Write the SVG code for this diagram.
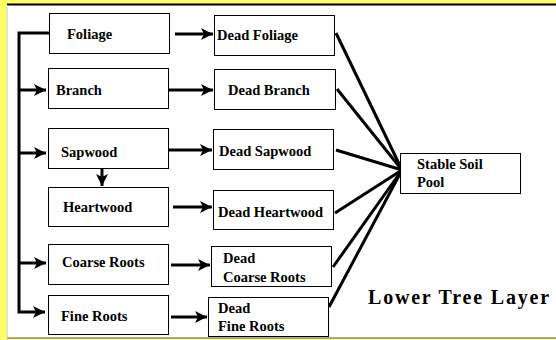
<svg xmlns="http://www.w3.org/2000/svg" width="556" height="340" viewBox="0 0 556 340">
<style>
.box{fill:#fff;stroke:#000;stroke-width:1}
.t{font-family:"Liberation Serif","Times New Roman",serif;font-weight:bold;font-size:14.5px;fill:#000}
.c{stroke:#000;stroke-width:3;fill:none}
</style>
<defs>
<marker id="ah" markerUnits="userSpaceOnUse" markerWidth="14" markerHeight="14" refX="12" refY="6" orient="auto" viewBox="0 0 14 12">
<path d="M0,0 L12,6 L0,12 L3,6 Z" fill="#000"/>
</marker>
</defs>
<rect x="0" y="0" width="556" height="340" fill="#ffff66"/>
<rect x="7" y="5" width="549" height="333" fill="#fff"/>
<line x1="7" y1="4.5" x2="556" y2="4.5" stroke="#000" stroke-width="2"/>
<line x1="7" y1="338" x2="556" y2="338" stroke="#888" stroke-width="1.5"/>
<line x1="7" y1="5" x2="7" y2="338" stroke="#ccc" stroke-width="1"/>

<g id="connectors">
<path class="c" d="M52,33 L19,33 L19,312 L45,312" marker-end="url(#ah)"/>
<line class="c" x1="19" y1="90" x2="46" y2="90" marker-end="url(#ah)"/>
<line class="c" x1="19" y1="153" x2="46" y2="153" marker-end="url(#ah)"/>
<line class="c" x1="19" y1="263" x2="46" y2="263" marker-end="url(#ah)"/>
<line class="c" x1="102" y1="168" x2="102" y2="186" marker-end="url(#ah)"/>
<line class="c" x1="175" y1="34" x2="213" y2="34" marker-end="url(#ah)"/>
<line class="c" x1="169" y1="90" x2="213" y2="90" marker-end="url(#ah)"/>
<line class="c" x1="169" y1="150" x2="212" y2="150" marker-end="url(#ah)"/>
<line class="c" x1="173" y1="207" x2="212" y2="207" marker-end="url(#ah)"/>
<line class="c" x1="171" y1="265" x2="210" y2="265" marker-end="url(#ah)"/>
<line class="c" x1="171" y1="317" x2="207" y2="317" marker-end="url(#ah)"/>
<line class="c" x1="336" y1="33" x2="402" y2="170"/>
<line class="c" x1="337" y1="89" x2="402" y2="170"/>
<line class="c" x1="336" y1="150" x2="402" y2="170"/>
<line class="c" x1="335" y1="213" x2="402" y2="170"/>
<line class="c" x1="333" y1="267" x2="402" y2="170"/>
<line class="c" x1="329" y1="307" x2="402" y2="170"/>
</g>

<g id="foliage"><rect class="box" x="49.5" y="13.5" width="120" height="40"/><text class="t" x="67" y="39">Foliage</text></g>
<g id="dead-foliage"><rect class="box" x="214.5" y="15.5" width="120" height="40"/><text class="t" x="217" y="40">Dead Foliage</text></g>
<g id="branch"><rect class="box" x="48.5" y="68.5" width="120" height="40"/><text class="t" x="56" y="95">Branch</text></g>
<g id="dead-branch"><rect class="box" x="214.5" y="69.5" width="121" height="40"/><text class="t" x="228" y="95">Dead Branch</text></g>
<g id="sapwood"><rect class="box" x="48.5" y="128.5" width="120" height="40"/><text class="t" x="61" y="157">Sapwood</text></g>
<g id="dead-sapwood"><rect class="box" x="213.5" y="129.5" width="120" height="40"/><text class="t" x="219" y="156">Dead Sapwood</text></g>
<g id="heartwood"><rect class="box" x="48.5" y="187.5" width="120" height="39"/><text class="t" x="63" y="212">Heartwood</text></g>
<g id="dead-heartwood"><rect class="box" x="213.5" y="190.5" width="120" height="39"/><text class="t" x="218" y="217">Dead Heartwood</text></g>
<g id="coarse-roots"><rect class="box" x="48.5" y="244.5" width="120" height="40"/><text class="t" x="62" y="267">Coarse Roots</text></g>
<g id="dead-coarse-roots"><rect class="box" x="211.5" y="246.5" width="120" height="40"/><text class="t" x="223" y="263">Dead</text><text class="t" x="223" y="282">Coarse Roots</text></g>
<g id="fine-roots"><rect class="box" x="48.5" y="295.5" width="120" height="39"/><text class="t" x="61" y="321">Fine Roots</text></g>
<g id="dead-fine-roots"><rect class="box" x="208.5" y="297.5" width="120" height="39"/><text class="t" x="218" y="313">Dead</text><text class="t" x="218" y="331">Fine Roots</text></g>
<g id="stable-soil-pool"><rect class="box" x="400.5" y="153.5" width="120" height="40"/><text class="t" x="417" y="169">Stable Soil</text><text class="t" x="417" y="187">Pool</text></g>
<text class="t" x="368" y="304" style="font-size:20px;letter-spacing:1.8px">Lower Tree Layer</text>
</svg>
